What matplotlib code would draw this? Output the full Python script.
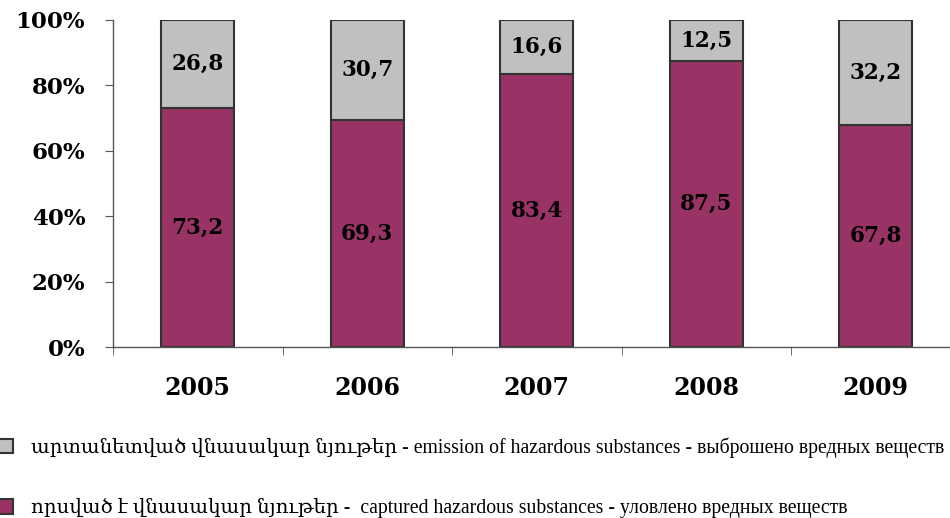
import matplotlib.pyplot as plt
from matplotlib.ticker import FixedLocator

years = ['2005', '2006', '2007', '2008', '2009']
captured = [73.2, 69.3, 83.4, 87.5, 67.8]
emitted = [26.8, 30.7, 16.6, 12.5, 32.2]
y_ticks = [0, 20, 40, 60, 80, 100]

label_emitted = 'արտանետված վնասակար նյութեր - emission of hazardous substances - выброшено вредных веществ'
label_captured = 'որսված է վնասակար նյութեր -  captured hazardous substances - уловлено вредных веществ'

maroon = '#993366'
grey = '#c0c0c0'
serif = ['Liberation Serif', 'DejaVu Serif', 'DejaVu Sans']
nums = ['DejaVu Serif']

fig = plt.figure(figsize=(9.5, 5.18), dpi=100)
ax = fig.add_axes([113 / 950, 171 / 518, 847.5 / 950, 327 / 518])

x = list(range(len(years)))
b1 = ax.bar(x, captured, width=0.43, color=maroon, edgecolor='#333333', linewidth=1.5)
b2 = ax.bar(x, emitted, width=0.43, bottom=captured, color=grey, edgecolor='#333333', linewidth=1.5)

def fmt(v):
    return f'{v:.1f}'.replace('.', ',')

for i in x:
    ax.text(i, captured[i] / 2, fmt(captured[i]), ha='center', va='center',
            family=nums, fontweight='bold', fontsize=15.5)
    ax.text(i, captured[i] + emitted[i] / 2, fmt(emitted[i]), ha='center', va='center',
            family=nums, fontweight='bold', fontsize=15.5)

ax.set_xlim(-0.5, 4.5)
ax.set_ylim(0, 100)
ax.set_yticks(y_ticks)
ax.set_yticklabels([f'{t}%' for t in y_ticks], family=nums, fontweight='bold', fontsize=16.5)
ax.set_xticks(x)
ax.set_xticklabels(years, family=nums, fontweight='bold', fontsize=17)
ax.xaxis.set_minor_locator(FixedLocator([i - 0.5 for i in range(len(years) + 1)]))
ax.tick_params(axis='x', which='major', length=0, pad=21)
ax.tick_params(axis='x', which='minor', length=6, color='#555555', direction='out')
ax.tick_params(axis='y', length=6, color='#555555', pad=14)

for s in ['top', 'right']:
    ax.spines[s].set_visible(False)
for s in ['left', 'bottom']:
    ax.spines[s].set_color('#555555')
    ax.spines[s].set_linewidth(1)

fig.legend([b2, b1], [label_emitted, label_captured], loc='upper left',
           bbox_to_anchor=(-0.002, 0.156), frameon=False,
           prop={'family': serif, 'size': 14.2}, handlelength=0.75, handleheight=0.75,
           handletextpad=0.9, labelspacing=2.05, borderaxespad=0, borderpad=0)

fig.savefig('out.png', dpi=100)
